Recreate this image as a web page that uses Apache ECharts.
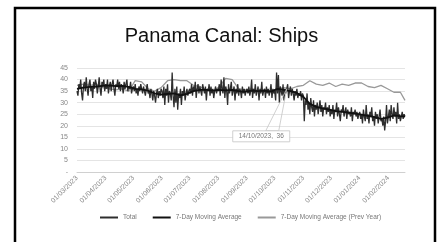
<!DOCTYPE html>
<html>
<head>
<meta charset="utf-8">
<script src="https://cdn.jsdelivr.net/npm/echarts@6/dist/echarts.min.js"></script>
<style>
html,body{margin:0;padding:0;background:#fff;}
#chart{width:443px;height:242px;filter:blur(0.35px);}
</style>
</head>
<body>
<div id="chart"></div>
<script>
// daily ships, 01/03/2023 .. 19/02/2024
var startDay = [2023, 2, 1];
var totalShips = [
  35,33,38,36,40,34,31,37,39,35,41,36,33,38,40,35,37,32,39,36,40,38,34,37,41,36,33,39,37,40,35,
  38,36,40,34,37,39,35,38,40,36,33,38,37,40,36,39,35,38,37,34,39,36,38,40,35,37,36,39,34,36,
  37,35,38,34,36,33,37,35,38,36,34,37,35,33,36,38,34,35,32,36,34,31,35,33,30,34,36,32,35,33,36,
  35,32,37,29,36,33,38,30,35,34,31,43,33,28,36,30,37,27,34,32,36,29,35,33,37,31,34,36,33,35,
  36,34,38,33,37,35,39,32,36,38,34,37,35,33,38,36,34,37,31,36,35,38,33,37,34,36,32,35,37,34,36,
  35,38,33,40,36,34,41,32,37,35,29,38,34,36,39,33,35,37,31,36,34,38,33,36,35,32,37,34,36,33,35,
  36,34,37,33,35,40,32,36,34,38,33,35,37,31,36,34,39,33,35,36,32,37,34,36,33,35,38,32,36,34,
  35,31,43,34,42,30,37,35,33,38,31,36,34,36,38,32,35,37,33,36,34,31,35,33,36,32,34,33,35,31,34,
  33,22,31,29,34,27,30,25,32,28,26,31,24,29,27,30,25,28,31,26,29,24,28,27,30,25,28,26,29,24,
  27,25,29,23,27,26,30,24,28,25,22,27,26,29,24,26,28,23,27,25,26,24,28,22,26,25,27,24,26,23,25,
  26,23,25,21,27,24,22,29,23,25,21,26,24,28,22,24,20,26,23,25,21,24,27,22,23,20,24,18,22,29,21,
  24,27,22,29,25,23,28,24,26,21,30,23,25,22,24,26,23,25,24
];
var avgDates = [
  '01/03/2023','08/03/2023','15/03/2023','22/03/2023','29/03/2023','05/04/2023','12/04/2023','19/04/2023','26/04/2023',
  '03/05/2023','10/05/2023','17/05/2023','24/05/2023','31/05/2023','07/06/2023','14/06/2023','21/06/2023','28/06/2023',
  '05/07/2023','12/07/2023','19/07/2023','26/07/2023','02/08/2023','09/08/2023','16/08/2023','23/08/2023','30/08/2023',
  '06/09/2023','13/09/2023','20/09/2023','27/09/2023','04/10/2023','11/10/2023','18/10/2023','25/10/2023',
  '01/11/2023','08/11/2023','15/11/2023','22/11/2023','29/11/2023','06/12/2023','13/12/2023','20/12/2023','27/12/2023',
  '03/01/2024','10/01/2024','17/01/2024','24/01/2024','31/01/2024','07/02/2024','14/02/2024','19/02/2024'
];
var movingAvg = [
  36,36.5,36.8,37,37.3,37.5,37.2,37.3,36.8,
  36,35.8,35.2,34,33.5,33.8,34,33.2,33.8,
  35,35.5,35.5,35.2,35.5,35.3,35.5,35,34.8,
  35.2,35,35.2,34.8,36,35.5,35,34.2,
  32.5,29.5,28.2,27.5,27,26.3,26,25.7,25.3,
  24.8,24.3,23.8,23,23.5,24.5,24.2,24
];
var prevYearAvg = [
  37.5,38,37.5,38,36.5,36,35.5,36,35,
  39.5,39,36,35,36.5,39.5,40,39.5,39.5,
  37.5,37,35.5,34.5,37,40.5,40,36,35.5,
  36,35,35.5,35,36,36.5,36,37,
  37.5,39.5,38,37.5,38.5,37,38,37.5,38.5,
  38.5,37,36.5,37.5,36,34.5,34.5,31
];
var yTicks = [0, 45, 5];
var callout = ['14/10/2023', 36];

function pad(n) { return n < 10 ? '0' + n : '' + n; }
var days = totalShips.map(function (v, i) {
  var d = new Date(startDay[0], startDay[1], startDay[2] + i);
  return pad(d.getDate()) + '/' + pad(d.getMonth() + 1) + '/' + d.getFullYear();
});
function pairs(xs, ys) { return xs.map(function (x, i) { return [x, ys[i]]; }); }

var myChart = echarts.init(document.getElementById('chart'));
var option = {
  backgroundColor: '#fff',
  animation: false,
  title: {
    text: 'Panama Canal: Ships',
    left: 'center',
    top: 21,
    textStyle: { fontFamily: 'Liberation Sans, Arial', fontSize: 20, fontWeight: 'normal', color: '#111' }
  },
  grid: { left: 77, right: 38, top: 68, bottom: 70 },
  legend: {
    left: 95,
    top: 209,
    itemWidth: 18,
    itemHeight: 2,
    itemGap: 16,
    textStyle: { fontSize: 6.5, color: '#777', fontFamily: 'Liberation Sans, Arial' },
    data: [
      { name: 'Total', icon: 'rect' },
      { name: '7-Day Moving Average', icon: 'rect' },
      { name: '7-Day Moving Average (Prev Year)', icon: 'rect' }
    ]
  },
  xAxis: {
    type: 'category',
    data: days,
    boundaryGap: false,
    axisLine: { lineStyle: { color: '#d0d0d0' } },
    axisTick: { show: false },
    axisLabel: {
      interval: function (i, v) { return v.slice(0, 2) === '01'; },
      rotate: 45,
      margin: 5,
      fontSize: 7,
      color: '#888',
      fontFamily: 'Liberation Sans, Arial'
    }
  },
  yAxis: {
    type: 'value',
    min: yTicks[0],
    max: yTicks[1],
    interval: yTicks[2],
    axisLine: { show: false },
    axisTick: { show: false },
    splitLine: { lineStyle: { color: '#e4e4e4' } },
    axisLabel: {
      margin: 9,
      fontSize: 7,
      color: '#888',
      fontFamily: 'Liberation Sans, Arial',
      formatter: function (v) { return v === 0 ? '-' : v; }
    }
  },
  series: [
    {
      name: 'Total', type: 'line', data: totalShips, symbol: 'none',
      lineStyle: { color: '#2e2e2e', width: 1.3 }, itemStyle: { color: '#2e2e2e' }, z: 3
    },
    {
      name: '7-Day Moving Average', type: 'line', data: pairs(avgDates, movingAvg), symbol: 'none',
      lineStyle: { color: '#111', width: 1.8 }, itemStyle: { color: '#111' }, z: 4
    },
    {
      name: '7-Day Moving Average (Prev Year)', type: 'line', data: pairs(avgDates, prevYearAvg), symbol: 'none',
      lineStyle: { color: '#999', width: 1.3 }, itemStyle: { color: '#999' }, z: 2
    }
  ]
};
myChart.setOption(option);

// data callout + slide frame
var p = myChart.convertToPixel({ seriesIndex: 0 }, callout);
var boxL = p[0] - 54, boxT = p[1] + 42;
myChart.setOption({
  graphic: [
    {
      type: 'rect', z: 1, silent: true,
      shape: { x: 15, y: 8, width: 420, height: 260 },
      style: { fill: 'none', stroke: '#000', lineWidth: 2.5 }
    },
    {
      type: 'polygon', z: 10,
      shape: { points: [[boxL + 33, boxT], [boxL + 46, boxT], [p[0], p[1]]] },
      style: { fill: 'rgba(255,255,255,0)', stroke: '#c4c4c4', lineWidth: 0.8 }
    },
    {
      type: 'rect', z: 11,
      shape: { x: boxL, y: boxT, width: 57, height: 11 },
      style: { fill: '#fff', stroke: '#c4c4c4', lineWidth: 0.8 }
    },
    {
      type: 'text', z: 12,
      x: boxL + 28.5, y: boxT + 5.5,
      style: {
        text: callout[0] + ',  ' + callout[1], fontSize: 6.5, fill: '#777',
        fontFamily: 'Liberation Sans, Arial', align: 'center', verticalAlign: 'middle'
      }
    }
  ]
});
</script>
</body>
</html>
